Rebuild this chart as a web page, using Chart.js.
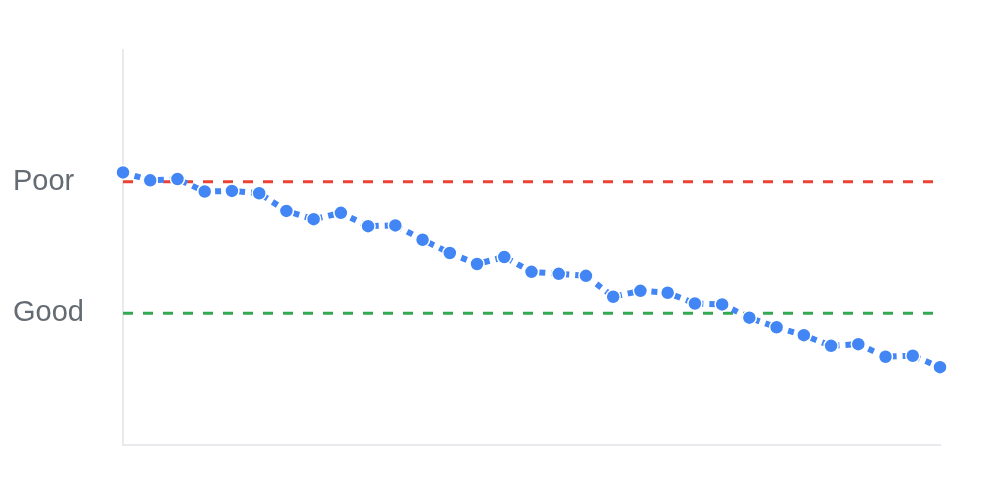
<!DOCTYPE html>
<html>
<head>
<meta charset="utf-8">
<script src="https://cdn.jsdelivr.net/npm/chart.js@4"></script>
<style>
  html, body { margin: 0; padding: 0; background: #fff; }
  #wrap { width: 990px; height: 495px; }
</style>
</head>
<body>
<div id="wrap"><canvas id="myChart"></canvas></div>
<script>
// 31 measurements, scale 0..3 (1 = Good, 2 = Poor)
const days = Array.from({ length: 31 }, (_, i) => 'Day ' + (i + 1))
const scores = [
  2.07, 2.01, 2.02, 1.925, 1.93, 1.912, 1.778, 1.715, 1.763, 1.662,
  1.668, 1.559, 1.458, 1.375, 1.428, 1.315, 1.300, 1.285, 1.126, 1.171,
  1.156, 1.075, 1.068, 0.967, 0.894, 0.834, 0.753, 0.766, 0.670, 0.678,
  0.591
]
const poorLevel = 2
const goodLevel = 1
const tickLabels = { 1: 'Good', 2: 'Poor' }

const idMyChart = document.getElementById('myChart')

const config = {
  type: 'line',
  data: {
    labels: days,
    datasets: [
      {
        label: 'Score',
        data: scores,
        borderColor: '#4285f4',
        backgroundColor: '#4285f4',
        borderWidth: 6,
        borderDash: [6, 6],
        pointRadius: 7,
        pointBorderColor: '#ffffff',
        pointBorderWidth: 1.5,
        pointBackgroundColor: '#4285f4',
        tension: 0,
        clip: false,
        order: 0
      },
      {
        label: 'Poor',
        data: days.map(() => poorLevel),
        borderColor: '#ea4335',
        borderWidth: 3,
        borderDash: [10, 10],
        pointRadius: 0,
        order: 1
      },
      {
        label: 'Good',
        data: days.map(() => goodLevel),
        borderColor: '#34a853',
        borderWidth: 3,
        borderDash: [10, 10],
        pointRadius: 0,
        order: 2
      }
    ]
  },
  options: {
    responsive: true,
    maintainAspectRatio: false,
    animation: false,
    layout: { padding: { top: 50, right: 50, bottom: 42, left: 13 } },
    plugins: {
      legend: { display: false },
      tooltip: { enabled: false }
    },
    scales: {
      x: {
        grid: { display: false },
        border: { display: true, color: '#e8eaed', width: 2 },
        ticks: { display: false }
      },
      y: {
        min: 0,
        max: 3,
        grid: { display: false },
        border: { display: true, color: '#e8eaed', width: 2 },
        afterFit: (scale) => { scale.width = 110 },
        ticks: {
          stepSize: 1,
          crossAlign: 'far',
          color: '#646b73',
          font: { family: 'Liberation Sans, Arial, sans-serif', size: 29 },
          callback: (v) => tickLabels[v] || ''
        }
      }
    }
  }
}

const chart = new Chart(idMyChart, config)
</script>
</body>
</html>
